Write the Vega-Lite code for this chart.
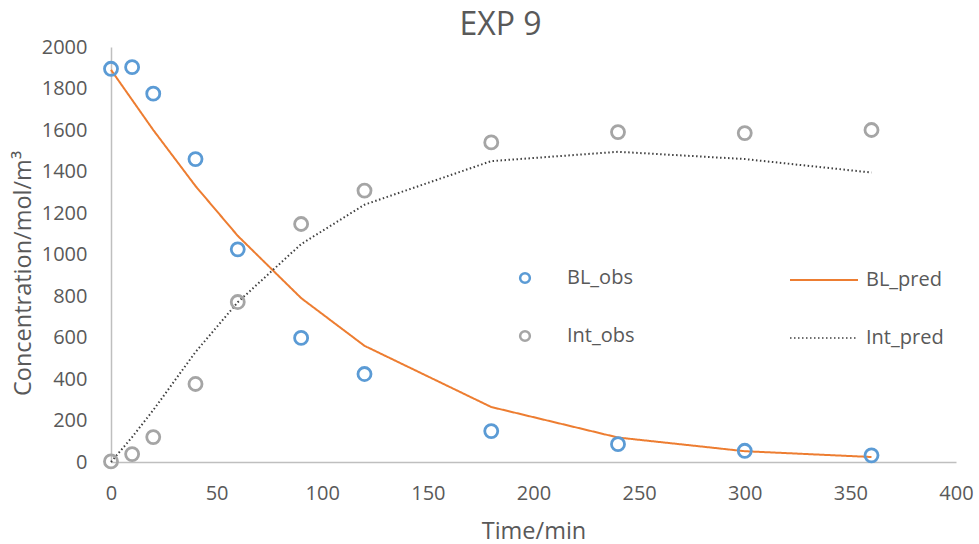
{
  "$schema": "https://vega.github.io/schema/vega-lite/v6.json",
  "autosize": {"type": "none"},
  "padding": {"left": 111, "top": 47, "right": 23, "bottom": 82},
  "width": 845,
  "height": 415,
  "background": "white",
  "title": {"text": "EXP 9", "fontSize": 32, "font": "Open Sans", "fontWeight": "normal", "color": "#595959", "anchor": "middle", "dx": -33, "offset": -5},
  "config": {
    "view": {"stroke": null},
    "font": "Open Sans",
    "axis": {"grid": false, "ticks": false, "domainColor": "#BFBFBF", "domainWidth": 1.5, "labelColor": "#595959", "labelFontSize": 20, "labelFont": "Open Sans", "labelFlush": false, "titleColor": "#595959", "titleFont": "Open Sans", "titleFontSize": 23.5, "titleFontWeight": "normal"},
    "legend": {"labelFont": "Open Sans", "labelFontSize": 20, "labelColor": "#595959", "title": null}
  },
  "data": {"values": [
    {"t": 0, "series": "BL_obs", "kind": "obs", "value": 1895},
    {"t": 10, "series": "BL_obs", "kind": "obs", "value": 1903},
    {"t": 20, "series": "BL_obs", "kind": "obs", "value": 1775},
    {"t": 40, "series": "BL_obs", "kind": "obs", "value": 1460},
    {"t": 60, "series": "BL_obs", "kind": "obs", "value": 1025},
    {"t": 90, "series": "BL_obs", "kind": "obs", "value": 598},
    {"t": 120, "series": "BL_obs", "kind": "obs", "value": 424},
    {"t": 180, "series": "BL_obs", "kind": "obs", "value": 149},
    {"t": 240, "series": "BL_obs", "kind": "obs", "value": 86},
    {"t": 300, "series": "BL_obs", "kind": "obs", "value": 54},
    {"t": 360, "series": "BL_obs", "kind": "obs", "value": 32},
    {"t": 0, "series": "Int_obs", "kind": "obs", "value": 3},
    {"t": 10, "series": "Int_obs", "kind": "obs", "value": 38},
    {"t": 20, "series": "Int_obs", "kind": "obs", "value": 120},
    {"t": 40, "series": "Int_obs", "kind": "obs", "value": 376},
    {"t": 60, "series": "Int_obs", "kind": "obs", "value": 771},
    {"t": 90, "series": "Int_obs", "kind": "obs", "value": 1147},
    {"t": 120, "series": "Int_obs", "kind": "obs", "value": 1308},
    {"t": 180, "series": "Int_obs", "kind": "obs", "value": 1540},
    {"t": 240, "series": "Int_obs", "kind": "obs", "value": 1590},
    {"t": 300, "series": "Int_obs", "kind": "obs", "value": 1585},
    {"t": 360, "series": "Int_obs", "kind": "obs", "value": 1600},
    {"t": 0, "series": "BL_pred", "kind": "pred", "value": 1890},
    {"t": 10, "series": "BL_pred", "kind": "pred", "value": 1745},
    {"t": 20, "series": "BL_pred", "kind": "pred", "value": 1600},
    {"t": 40, "series": "BL_pred", "kind": "pred", "value": 1330},
    {"t": 60, "series": "BL_pred", "kind": "pred", "value": 1090},
    {"t": 90, "series": "BL_pred", "kind": "pred", "value": 790},
    {"t": 120, "series": "BL_pred", "kind": "pred", "value": 560},
    {"t": 180, "series": "BL_pred", "kind": "pred", "value": 265},
    {"t": 240, "series": "BL_pred", "kind": "pred", "value": 118},
    {"t": 300, "series": "BL_pred", "kind": "pred", "value": 52},
    {"t": 360, "series": "BL_pred", "kind": "pred", "value": 24},
    {"t": 0, "series": "Int_pred", "kind": "pred", "value": 0},
    {"t": 10, "series": "Int_pred", "kind": "pred", "value": 120},
    {"t": 20, "series": "Int_pred", "kind": "pred", "value": 250},
    {"t": 40, "series": "Int_pred", "kind": "pred", "value": 530},
    {"t": 60, "series": "Int_pred", "kind": "pred", "value": 770},
    {"t": 90, "series": "Int_pred", "kind": "pred", "value": 1050},
    {"t": 120, "series": "Int_pred", "kind": "pred", "value": 1240},
    {"t": 180, "series": "Int_pred", "kind": "pred", "value": 1450},
    {"t": 240, "series": "Int_pred", "kind": "pred", "value": 1495},
    {"t": 300, "series": "Int_pred", "kind": "pred", "value": 1460},
    {"t": 360, "series": "Int_pred", "kind": "pred", "value": 1395}
  ]},
  "encoding": {
    "x": {"field": "t", "type": "quantitative", "scale": {"domain": [0, 400], "nice": false}, "axis": {"values": [0, 50, 100, 150, 200, 250, 300, 350, 400], "title": "Time/min", "labelPadding": 21, "titlePadding": 16}},
    "y": {"field": "value", "type": "quantitative", "scale": {"domain": [0, 2000], "nice": false}, "axis": {"values": [0, 200, 400, 600, 800, 1000, 1200, 1400, 1600, 1800, 2000], "format": "d", "title": "Concentration/mol/m³", "labelPadding": 24, "titlePadding": 6, "titleY": 226}}
  },
  "layer": [
    {
      "transform": [{"filter": "datum.kind === 'pred'"}],
      "mark": {"type": "line", "strokeWidth": 2},
      "encoding": {
        "stroke": {"field": "series", "type": "nominal", "scale": {"domain": ["BL_pred", "Int_pred"], "range": ["#ED7D31", "#404040"]},
          "legend": {"orient": "none", "legendX": 678, "legendY": 198, "symbolType": "stroke", "symbolSize": 4624, "symbolStrokeWidth": 2, "labelOffset": 7, "rowPadding": 13}},
        "strokeDash": {"field": "series", "type": "nominal", "scale": {"domain": ["BL_pred", "Int_pred"], "range": [[1, 0], [1.5, 2.5]]}},
        "strokeWidth": {"field": "series", "type": "nominal", "scale": {"domain": ["BL_pred", "Int_pred"], "range": [2, 1.5]}, "legend": null}
      }
    },
    {
      "transform": [{"filter": "datum.kind === 'obs'"}],
      "mark": {"type": "point", "filled": false, "shape": "circle", "size": 170, "strokeWidth": 2.8, "opacity": 1},
      "encoding": {
        "color": {"field": "series", "type": "nominal", "scale": {"domain": ["BL_obs", "Int_obs"], "range": ["#5B9BD5", "#A5A5A5"]},
          "legend": {"orient": "none", "legendX": 404, "legendY": 221, "symbolType": "circle", "symbolSize": 95, "symbolStrokeWidth": 2.5, "symbolFillColor": "transparent", "labelOffset": 32, "rowPadding": 38}}
      }
    }
  ]
}
